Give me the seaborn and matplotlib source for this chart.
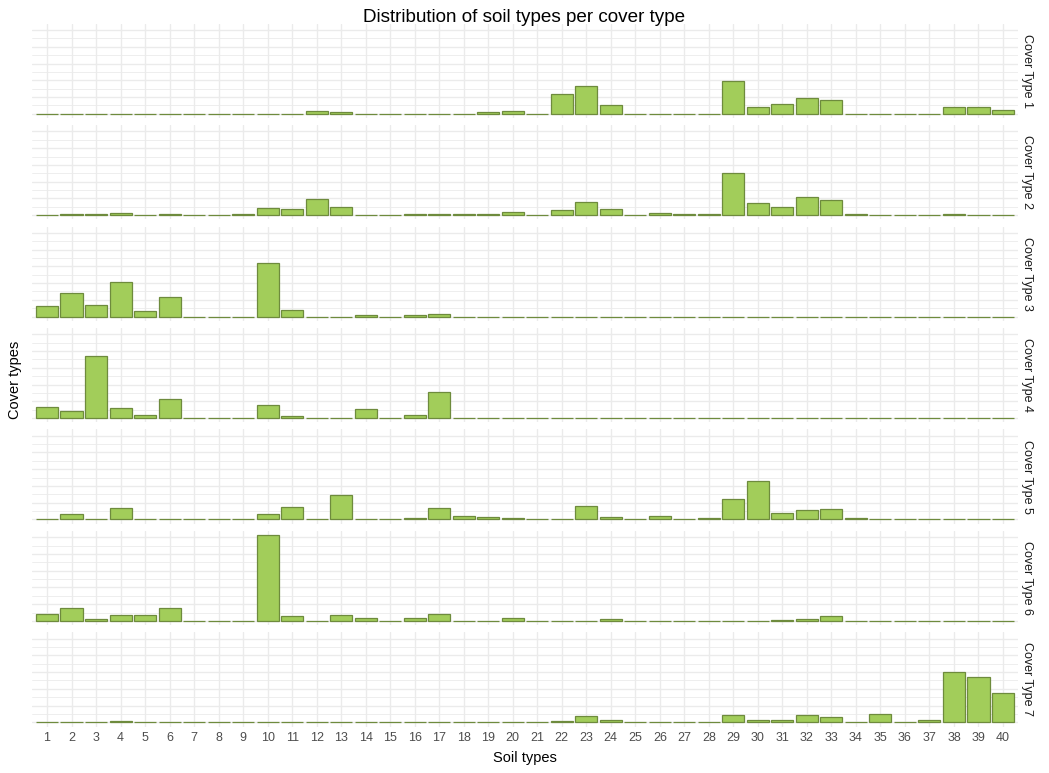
import matplotlib
matplotlib.use("Agg")
import matplotlib.pyplot as plt
import seaborn as sns
import pandas as pd
import numpy as np

soil_types = [str(i) for i in range(1, 41)]
cover_labels = ["Cover Type 1", "Cover Type 2", "Cover Type 3", "Cover Type 4",
                "Cover Type 5", "Cover Type 6", "Cover Type 7"]

cover1 = [0, 0, 0, 0, 0, 0, 0, 0, 0, 0, 0, 28, 16, 0, 0, 0, 0, 0, 16, 28,
          0, 241, 336, 99, 0, 0, 0, 0, 395, 75, 111, 194, 170, 0, 0, 0, 0, 75, 75, 40]
cover2 = [0, 16, 16, 28, 0, 16, 0, 0, 16, 87, 75, 194, 99, 0, 0, 16, 16, 16, 16, 40,
          0, 63, 158, 75, 0, 28, 16, 16, 502, 146, 99, 217, 182, 16, 0, 0, 0, 16, 0, 0]
cover3 = [122, 277, 134, 419, 63, 229, 0, 0, 0, 644, 75, 0, 0, 16, 0, 16, 28, 0, 0, 0,
          0, 0, 0, 0, 0, 0, 0, 0, 0, 0, 0, 0, 0, 0, 0, 0, 0, 0, 0, 0]
cover4 = [130, 83, 735, 119, 36, 225, 0, 0, 0, 154, 24, 0, 0, 107, 0, 36, 308, 0, 0, 0,
          0, 0, 0, 0, 0, 0, 0, 0, 0, 0, 0, 0, 0, 0, 0, 0, 0, 0, 0, 0]
cover5 = [0, 63, 0, 134, 0, 0, 0, 0, 0, 63, 146, 0, 289, 0, 0, 16, 134, 40, 28, 16,
          0, 0, 158, 28, 0, 40, 0, 16, 241, 455, 75, 111, 122, 16, 0, 0, 0, 0, 0, 0]
cover6 = [87, 158, 28, 75, 75, 158, 0, 0, 0, 1024, 63, 0, 75, 40, 0, 40, 87, 0, 0, 40,
          0, 0, 0, 28, 0, 0, 0, 0, 0, 0, 16, 28, 63, 0, 0, 0, 0, 0, 0, 0]
cover7 = [0, 0, 0, 20, 0, 0, 0, 0, 0, 0, 0, 0, 0, 0, 0, 0, 0, 0, 0, 0,
          0, 16, 75, 28, 0, 0, 0, 0, 87, 28, 28, 87, 63, 0, 99, 0, 28, 597, 538, 348]

all_covers = [cover1, cover2, cover3, cover4, cover5, cover6, cover7]

df = pd.DataFrame({
    "soil": soil_types * len(cover_labels),
    "cover": np.repeat(cover_labels, len(soil_types)),
    "count": np.concatenate(all_covers),
})

sns.set_theme(style="white")
plt.rcParams["font.family"] = ["Liberation Sans", "DejaVu Sans"]

W, H = 1049, 773
fig, axes = plt.subplots(7, 1, figsize=(W / 100, H / 100), dpi=100, sharex=True, sharey=True)
fig.subplots_adjust(left=32.3 / W, right=1017.7 / W, top=1 - 23.7 / H,
                    bottom=1 - 726.6 / H, hspace=0.075)

ymax = df["count"].max()
for ax, lab in zip(axes, cover_labels):
    sub = df[df["cover"] == lab]
    sns.barplot(data=sub, x="soil", y="count", order=soil_types, ax=ax,
                color="#A2CD5A", edgecolor="#6E8B3D", linewidth=0.9,
                width=0.9, saturation=1, errorbar=None, zorder=3)
    ax.set_xlim(-0.6, 39.6)
    ax.set_ylim(-0.05 * ymax, 1.05 * ymax)
    ax.set_yticks(np.arange(0, 1001, 200))
    ax.set_yticks(np.arange(100, 1001, 200), minor=True)
    ax.set_xticks(range(40))
    ax.grid(True, which="major", axis="both", color="#EBEBEB", linewidth=1.0, zorder=0)
    ax.grid(True, which="minor", axis="y", color="#EBEBEB", linewidth=0.6, zorder=0)
    ax.set_axisbelow(True)
    ax.tick_params(axis="y", which="both", left=False, labelleft=False, length=0)
    ax.tick_params(axis="x", length=0, pad=4, labelsize=9, labelcolor="#4D4D4D")
    ax.set_xlabel("")
    ax.set_ylabel("")
    for s in ax.spines.values():
        s.set_visible(False)
    ax.annotate(lab, xy=(1, 0.5), xycoords="axes fraction", xytext=(9, 0),
                textcoords="offset pixels", rotation=-90, ha="center", va="center",
                fontsize=9, color="#1A1A1A")

axes[-1].set_xticklabels(soil_types)
fig.text(0.5, 1 - 17 / H, "Distribution of soil types per cover type",
         ha="center", va="center", fontsize=13.6, color="black")
fig.text((32.3 + 1017.7) / 2 / W, 1 - 758 / H, "Soil types", ha="center", va="center",
         fontsize=10.5, color="black")
fig.text(15 / W, 1 - 380 / H, "Cover types", ha="center", va="center", rotation=90,
         fontsize=10.5, color="black")

fig.savefig("out.png", dpi=100, facecolor="white")
